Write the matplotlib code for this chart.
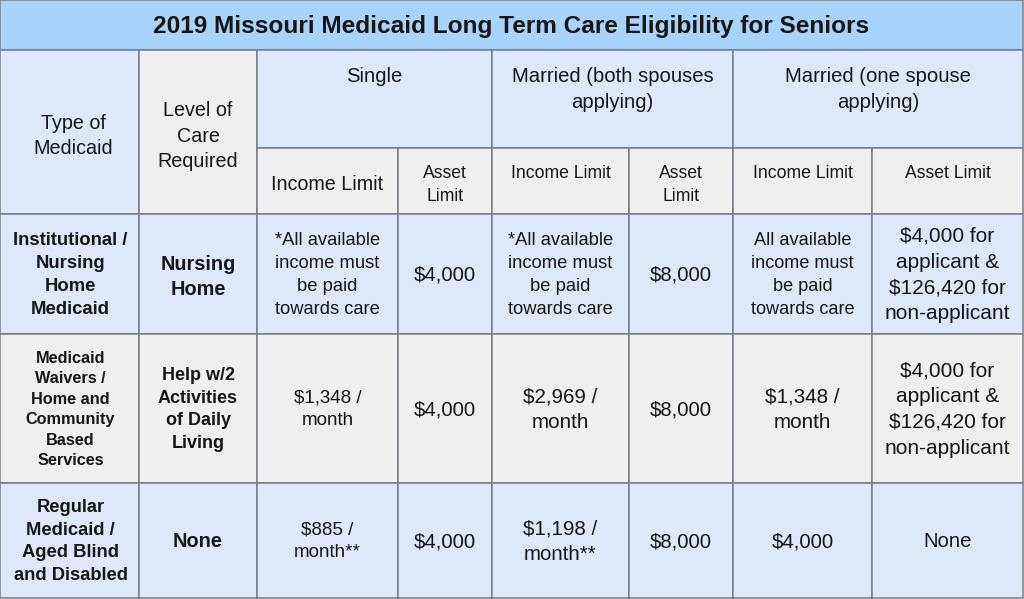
import matplotlib.pyplot as plt
from matplotlib.patches import Rectangle

plt.rcParams['font.family'] = ['Liberation Sans', 'DejaVu Sans']

title = '2019 Missouri Medicaid Long Term Care Eligibility for Seniors'
left_headers = ['Type of\nMedicaid', 'Level of\nCare\nRequired']
groups = ['Single', 'Married (both spouses\napplying)', 'Married (one spouse\napplying)']
sub_headers = ['Income Limit', 'Asset\nLimit', 'Income Limit', 'Asset\nLimit',
               'Income Limit', 'Asset Limit']

medicaid_types = ['Institutional /\nNursing\nHome\nMedicaid',
                  'Medicaid\nWaivers /\nHome and\nCommunity\nBased\nServices',
                  'Regular\nMedicaid /\nAged Blind\nand Disabled']
care_levels = ['Nursing\nHome', 'Help w/2\nActivities\nof Daily\nLiving', 'None']

income_single = ['*All available\nincome must\nbe paid\ntowards care', '$1,348 /\nmonth', '$885 /\nmonth**']
asset_single = ['$4,000', '$4,000', '$4,000']
income_both = ['*All available\nincome must\nbe paid\ntowards care', '$2,969 /\nmonth', '$1,198 /\nmonth**']
asset_both = ['$8,000', '$8,000', '$8,000']
income_one = ['All available\nincome must\nbe paid\ntowards care', '$1,348 /\nmonth', '$4,000']
asset_one = ['$4,000 for\napplicant &\n$126,420 for\nnon-applicant',
             '$4,000 for\napplicant &\n$126,420 for\nnon-applicant', 'None']

# layout (pixels)
col_edges = [0, 139, 257, 398, 492, 629, 733, 872, 1023]
row_edges = [0, 50, 148, 214, 334, 483, 598]

BLUE = '#dfe7fb'
GRAY = '#efefef'
TITLE_BG = '#a8d3fa'
LINE = '#777c85'
TXT = '#161616'
LS = 1.46

# font sizes per body cell (rows x 8 cols)
body_sizes = [
    [13.3, 14.3, 13.2, 14.6, 13.2, 14.6, 13.1, 15.0],
    [11.7, 13.0, 13.5, 14.6, 14.9, 14.6, 14.9, 15.0],
    [13.2, 14.4, 13.5, 14.6, 14.8, 14.6, 14.7, 14.6],
]
sub_sizes = [14.2, 12.7, 12.7, 12.7, 12.7, 12.7]

fig = plt.figure(figsize=(10.24, 5.99), dpi=100)
ax = fig.add_axes([0, 0, 1, 1])
ax.set_xlim(0, 1024)
ax.set_ylim(599, 0)
ax.axis('off')


def cell(x0, x1, y0, y1, color):
    ax.add_patch(Rectangle((x0, y0), x1 - x0, y1 - y0, facecolor=color,
                           edgecolor=LINE, linewidth=1.1, zorder=1))


def put(x, y, s, size, weight='normal', va='center'):
    ax.text(x, y, s, ha='center', va=va, multialignment='center',
            fontsize=size, fontweight=weight, color=TXT, linespacing=LS, zorder=3)


# title band
cell(col_edges[0], col_edges[-1], row_edges[0], row_edges[1], TITLE_BG)
put((col_edges[0] + col_edges[-1]) / 2, (row_edges[0] + row_edges[1]) / 2 + 1,
    title, 17.6, 'bold')

# left headers
for i, (lab, col) in enumerate(zip(left_headers, [BLUE, GRAY])):
    cell(col_edges[i], col_edges[i + 1], row_edges[1], row_edges[3], col)
    put((col_edges[i] + col_edges[i + 1]) / 2 + (4 if i == 0 else 0),
        (row_edges[1] + row_edges[3]) / 2 + 4, lab, 14.2)

# group headers
for g, lab in enumerate(groups):
    x0, x1 = col_edges[2 + 2 * g], col_edges[4 + 2 * g]
    cell(x0, x1, row_edges[1], row_edges[2], BLUE)
    put((x0 + x1) / 2, row_edges[1] + 17, lab, 14.6, va='top')

# sub headers
for j, lab in enumerate(sub_headers):
    x0, x1 = col_edges[2 + j], col_edges[3 + j]
    cell(x0, x1, row_edges[2], row_edges[3], GRAY)
    if j == 0:
        put((x0 + x1) / 2, (row_edges[2] + row_edges[3]) / 2 + 3, lab, sub_sizes[j])
    else:
        put((x0 + x1) / 2, row_edges[2] + 17, lab, sub_sizes[j], va='top')

# body rows
columns = [medicaid_types, care_levels, income_single, asset_single,
           income_both, asset_both, income_one, asset_one]
row_colors = [BLUE, GRAY, BLUE]
for r in range(len(medicaid_types)):
    y0, y1 = row_edges[3 + r], row_edges[4 + r]
    for c, values in enumerate(columns):
        x0, x1 = col_edges[c], col_edges[c + 1]
        cell(x0, x1, y0, y1, row_colors[r])
        dy = 3 if (c == 1 and r == 0) else 1
        put((x0 + x1) / 2 + (1 if c == 0 else 0), (y0 + y1) / 2 + dy, values[r],
            body_sizes[r][c], 'bold' if c < 2 else 'normal')

fig.savefig('out.png', dpi=100, facecolor='white')
